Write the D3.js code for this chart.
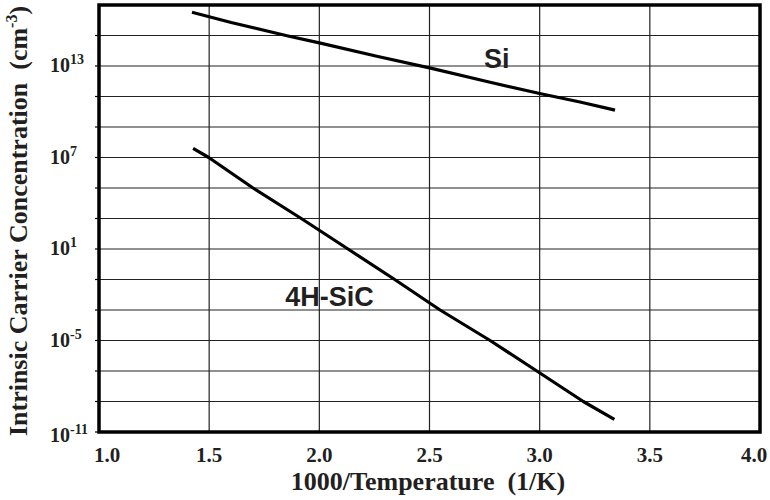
<!DOCTYPE html>
<html>
<head>
<meta charset="utf-8">
<script src="https://cdn.jsdelivr.net/npm/d3@7"></script>
<style>
  html, body { margin: 0; padding: 0; background: #fff; }
  svg { display: block; }
</style>
</head>
<body>
<svg id="chart" width="770" height="500"></svg>
<script>
// Inverse temperature, 1000/T (1/K)
const siInvT   = [1.422, 1.60, 1.858, 2.0, 2.266, 2.505, 2.775, 3.0, 3.183, 3.342];
// log10 of intrinsic carrier concentration (cm^-3), Si
const siLogNi  = [16.52, 15.85, 14.97, 14.52, 13.62, 12.86, 11.93, 11.20, 10.64, 10.11];

const sicInvT  = [1.427, 1.498, 1.699, 1.918, 2.130, 2.342, 2.548, 2.775, 2.987, 3.198, 3.339];
// log10 of intrinsic carrier concentration (cm^-3), 4H-SiC
const sicLogNi = [7.60, 7.0, 5.0, 3.0, 1.0, -1.0, -3.0, -5.0, -7.0, -9.0, -10.17];

const xTicks = [1.0, 1.5, 2.0, 2.5, 3.0, 3.5, 4.0];
const yGridExponents = [-11, -9, -7, -5, -3, -1, 1, 3, 5, 7, 9, 11, 13, 15];
const yLabelExponents = [-11, -5, 1, 7, 13];

const seriesLabels = [
  { text: "Si", x: 2.805, y: 12.87 },
  { text: "4H-SiC", x: 2.046, y: -2.74 }
];

(function draw() {
  const svg = d3.select("#chart");
  const plotLeft = 99, plotRight = 760, plotTop = 5, plotBottom = 432;

  const x = d3.scaleLinear().domain([1.0, 4.0]).range([plotLeft, plotRight]);
  const y = d3.scaleLog().domain([1e-11, 1e17]).range([plotBottom, plotTop]);

  const serif = "'Liberation Serif', 'Times New Roman', serif";
  const sans = "'Liberation Sans', Arial, sans-serif";
  const ink = "#231f20";

  // Grid
  const grid = svg.append("g");
  grid.selectAll("line.h").data(yGridExponents).join("line")
    .attr("class", "h")
    .attr("x1", plotLeft).attr("x2", plotRight)
    .attr("y1", d => y(Math.pow(10, d))).attr("y2", d => y(Math.pow(10, d)))
    .attr("stroke", "#222").attr("stroke-width", 1.2);
  grid.selectAll("line.v").data(xTicks.slice(1, -1)).join("line")
    .attr("class", "v")
    .attr("y1", plotTop).attr("y2", plotBottom)
    .attr("x1", d => x(d)).attr("x2", d => x(d))
    .attr("stroke", "#222").attr("stroke-width", 1.2);

  // Left-side tick marks
  svg.append("g").selectAll("line").data(yGridExponents).join("line")
    .attr("x1", plotLeft - 4).attr("x2", plotLeft)
    .attr("y1", d => y(Math.pow(10, d))).attr("y2", d => y(Math.pow(10, d)))
    .attr("stroke", "#000").attr("stroke-width", 1.2);

  // Curves
  const line = d3.line().x(d => x(d[0])).y(d => y(Math.pow(10, d[1])));
  const siData = d3.zip(siInvT, siLogNi);
  const sicData = d3.zip(sicInvT, sicLogNi);
  [siData, sicData].forEach(data => {
    svg.append("path").datum(data)
      .attr("d", line)
      .attr("fill", "none")
      .attr("stroke", "#000")
      .attr("stroke-width", 3.2)
      .attr("stroke-linejoin", "round");
  });

  // Frame
  svg.append("rect")
    .attr("x", plotLeft).attr("y", plotTop)
    .attr("width", plotRight - plotLeft).attr("height", plotBottom - plotTop)
    .attr("fill", "none").attr("stroke", "#000").attr("stroke-width", 3.5);

  // X tick labels (end labels nudged inward)
  svg.append("g").selectAll("text").data(xTicks).join("text")
    .attr("x", d => x(d) + (d === 1.0 ? 8 : d === 4.0 ? -6 : 0))
    .attr("y", 462)
    .attr("text-anchor", "middle")
    .attr("font-family", serif).attr("font-weight", "bold").attr("font-size", 21)
    .attr("fill", ink)
    .text(d => d3.format(".1f")(d));

  // Y tick labels with superscript exponents
  const yl = svg.append("g").selectAll("text").data(yLabelExponents).join("text")
    .attr("x", 50)
    .attr("y", d => y(Math.pow(10, d)) + (d === -11 ? 10 : 6))
    .attr("font-family", serif).attr("font-weight", "bold").attr("font-size", 20)
    .attr("fill", ink);
  yl.append("tspan").text("10");
  yl.append("tspan").attr("dy", -8).attr("font-size", 14).text(d => String(d));

  // Axis titles
  svg.append("text")
    .attr("x", 428).attr("y", 490)
    .attr("text-anchor", "middle")
    .attr("font-family", serif).attr("font-weight", "bold").attr("font-size", 26)
    .attr("fill", ink)
    .attr("xml:space", "preserve")
    .text("1000/Temperature  (1/K)");

  const yt = svg.append("text")
    .attr("transform", "translate(27,221) rotate(-90)")
    .attr("text-anchor", "middle")
    .attr("font-family", serif).attr("font-weight", "bold").attr("font-size", 26)
    .attr("fill", ink)
    .attr("xml:space", "preserve");
  yt.append("tspan").text("Intrinsic Carrier Concentration  (cm");
  yt.append("tspan").attr("dy", -10).attr("font-size", 16).text("-3");
  yt.append("tspan").attr("dy", 10).text(")");

  // Series labels
  svg.append("g").selectAll("text").data(seriesLabels).join("text")
    .attr("x", d => x(d.x))
    .attr("y", d => y(Math.pow(10, d.y)))
    .attr("text-anchor", "middle")
    .attr("font-family", sans).attr("font-weight", "bold").attr("font-size", 27)
    .attr("fill", ink)
    .text(d => d.text);
})();
</script>
</body>
</html>
